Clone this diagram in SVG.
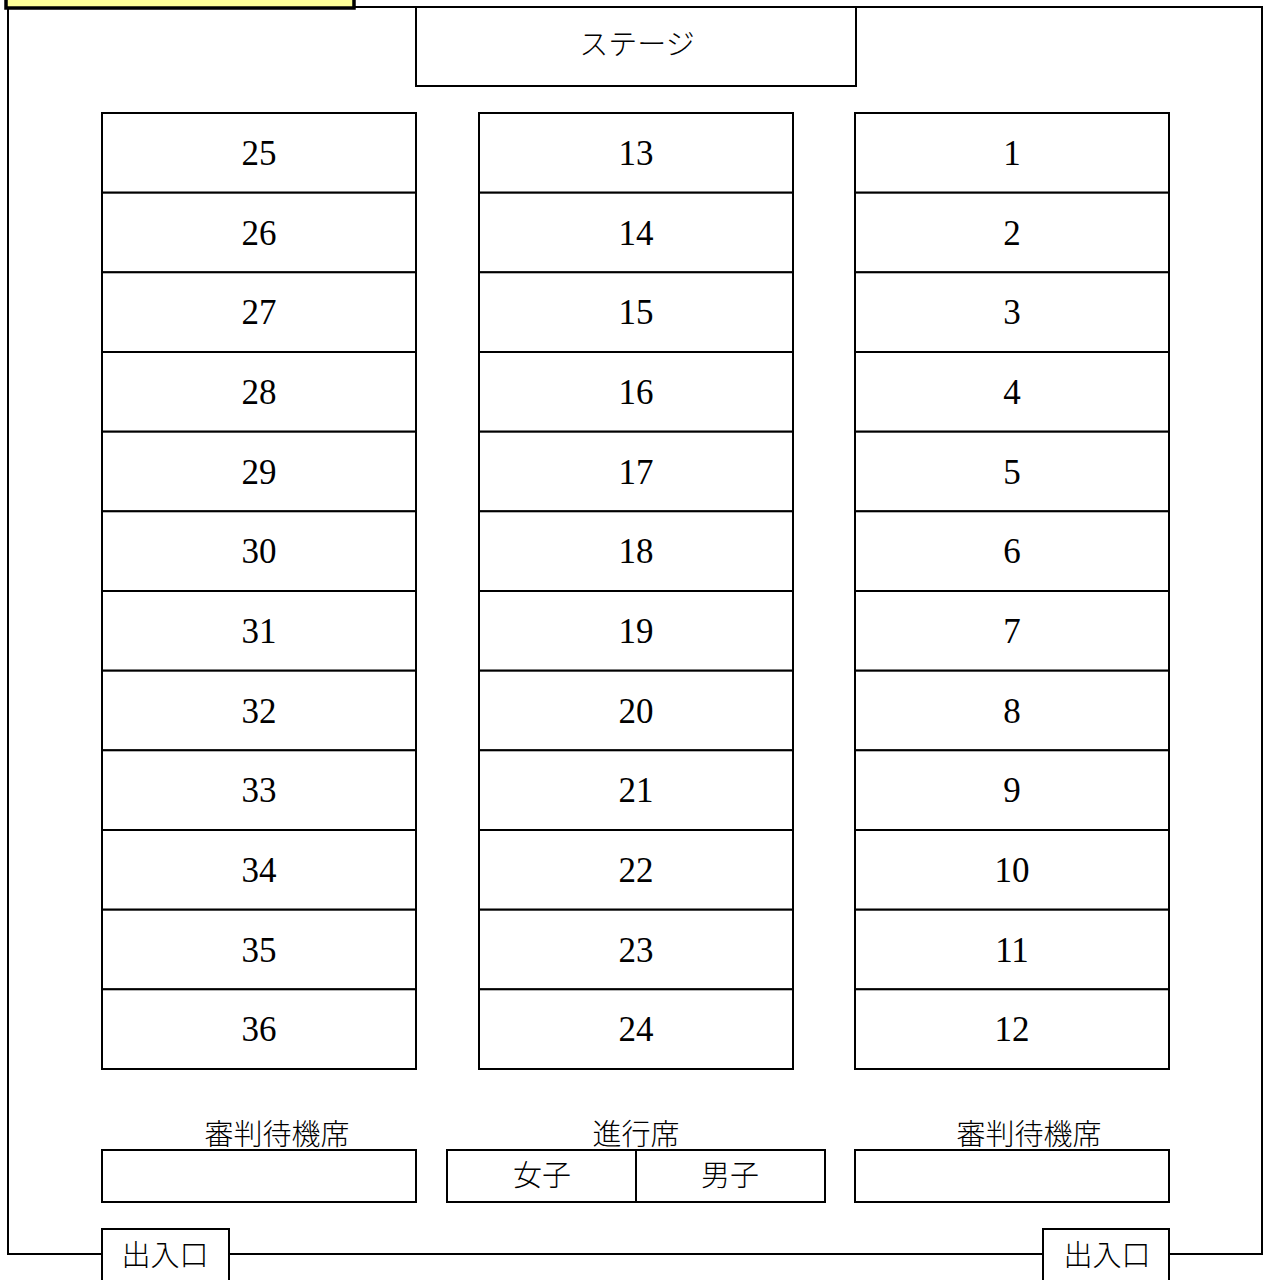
<svg xmlns="http://www.w3.org/2000/svg" width="1266" height="1280" viewBox="0 0 1266 1280">
<style>
.b{fill:#fff;stroke:#000;stroke-width:2}
.n{font-family:"Liberation Serif","DejaVu Serif",serif;font-size:35px;text-anchor:middle;fill:#000}
.j{font-family:"Noto Sans CJK JP",sans-serif;font-size:29px;font-weight:300;text-anchor:middle;fill:#000}
.w{fill:none;stroke:#000;stroke-width:2}
</style>
<rect width="1266" height="1280" fill="#fff"/>
<g id="walls">
<path class="w" d="M355 7 H1262 V1254 H8 V7"/>
</g>
<g id="label-box"><rect x="6" y="-10" width="348" height="18" fill="#ffff99" stroke="#000" stroke-width="3.5"/></g>
<g id="stage"><rect class="b" x="416" y="7" width="440" height="79"/><text class="j" x="637" y="55">ステージ</text></g>
<g id="seats-left">
<g id="s25"><rect class="b" x="102" y="113" width="314" height="79.7"/><text class="n" x="259" y="165">25</text></g>
<g id="s26"><rect class="b" x="102" y="192.7" width="314" height="79.7"/><text class="n" x="259" y="244.7">26</text></g>
<g id="s27"><rect class="b" x="102" y="272.3" width="314" height="79.7"/><text class="n" x="259" y="324.3">27</text></g>
<g id="s28"><rect class="b" x="102" y="352" width="314" height="79.7"/><text class="n" x="259" y="404">28</text></g>
<g id="s29"><rect class="b" x="102" y="431.7" width="314" height="79.7"/><text class="n" x="259" y="483.7">29</text></g>
<g id="s30"><rect class="b" x="102" y="511.3" width="314" height="79.7"/><text class="n" x="259" y="563.3">30</text></g>
<g id="s31"><rect class="b" x="102" y="591" width="314" height="79.7"/><text class="n" x="259" y="643">31</text></g>
<g id="s32"><rect class="b" x="102" y="670.7" width="314" height="79.7"/><text class="n" x="259" y="722.7">32</text></g>
<g id="s33"><rect class="b" x="102" y="750.3" width="314" height="79.7"/><text class="n" x="259" y="802.3">33</text></g>
<g id="s34"><rect class="b" x="102" y="830" width="314" height="79.7"/><text class="n" x="259" y="882">34</text></g>
<g id="s35"><rect class="b" x="102" y="909.7" width="314" height="79.7"/><text class="n" x="259" y="961.7">35</text></g>
<g id="s36"><rect class="b" x="102" y="989.3" width="314" height="79.7"/><text class="n" x="259" y="1041.3">36</text></g>
</g>
<g id="seats-middle">
<g id="s13"><rect class="b" x="479" y="113" width="314" height="79.7"/><text class="n" x="636" y="165">13</text></g>
<g id="s14"><rect class="b" x="479" y="192.7" width="314" height="79.7"/><text class="n" x="636" y="244.7">14</text></g>
<g id="s15"><rect class="b" x="479" y="272.3" width="314" height="79.7"/><text class="n" x="636" y="324.3">15</text></g>
<g id="s16"><rect class="b" x="479" y="352" width="314" height="79.7"/><text class="n" x="636" y="404">16</text></g>
<g id="s17"><rect class="b" x="479" y="431.7" width="314" height="79.7"/><text class="n" x="636" y="483.7">17</text></g>
<g id="s18"><rect class="b" x="479" y="511.3" width="314" height="79.7"/><text class="n" x="636" y="563.3">18</text></g>
<g id="s19"><rect class="b" x="479" y="591" width="314" height="79.7"/><text class="n" x="636" y="643">19</text></g>
<g id="s20"><rect class="b" x="479" y="670.7" width="314" height="79.7"/><text class="n" x="636" y="722.7">20</text></g>
<g id="s21"><rect class="b" x="479" y="750.3" width="314" height="79.7"/><text class="n" x="636" y="802.3">21</text></g>
<g id="s22"><rect class="b" x="479" y="830" width="314" height="79.7"/><text class="n" x="636" y="882">22</text></g>
<g id="s23"><rect class="b" x="479" y="909.7" width="314" height="79.7"/><text class="n" x="636" y="961.7">23</text></g>
<g id="s24"><rect class="b" x="479" y="989.3" width="314" height="79.7"/><text class="n" x="636" y="1041.3">24</text></g>
</g>
<g id="seats-right">
<g id="s1"><rect class="b" x="855" y="113" width="314" height="79.7"/><text class="n" x="1012" y="165">1</text></g>
<g id="s2"><rect class="b" x="855" y="192.7" width="314" height="79.7"/><text class="n" x="1012" y="244.7">2</text></g>
<g id="s3"><rect class="b" x="855" y="272.3" width="314" height="79.7"/><text class="n" x="1012" y="324.3">3</text></g>
<g id="s4"><rect class="b" x="855" y="352" width="314" height="79.7"/><text class="n" x="1012" y="404">4</text></g>
<g id="s5"><rect class="b" x="855" y="431.7" width="314" height="79.7"/><text class="n" x="1012" y="483.7">5</text></g>
<g id="s6"><rect class="b" x="855" y="511.3" width="314" height="79.7"/><text class="n" x="1012" y="563.3">6</text></g>
<g id="s7"><rect class="b" x="855" y="591" width="314" height="79.7"/><text class="n" x="1012" y="643">7</text></g>
<g id="s8"><rect class="b" x="855" y="670.7" width="314" height="79.7"/><text class="n" x="1012" y="722.7">8</text></g>
<g id="s9"><rect class="b" x="855" y="750.3" width="314" height="79.7"/><text class="n" x="1012" y="802.3">9</text></g>
<g id="s10"><rect class="b" x="855" y="830" width="314" height="79.7"/><text class="n" x="1012" y="882">10</text></g>
<g id="s11"><rect class="b" x="855" y="909.7" width="314" height="79.7"/><text class="n" x="1012" y="961.7">11</text></g>
<g id="s12"><rect class="b" x="855" y="989.3" width="314" height="79.7"/><text class="n" x="1012" y="1041.3">12</text></g>
</g>
<g id="judge-left"><text class="j" x="277" y="1145">審判待機席</text><rect class="b" x="102" y="1150" width="314" height="52"/></g>
<g id="progress"><text class="j" x="636" y="1145">進行席</text><rect class="b" x="447" y="1150" width="189" height="52"/><rect class="b" x="636" y="1150" width="189" height="52"/><text class="j" x="542" y="1186">女子</text><text class="j" x="730" y="1186">男子</text></g>
<g id="judge-right"><text class="j" x="1029" y="1145">審判待機席</text><rect class="b" x="855" y="1150" width="314" height="52"/></g>
<g id="exit-left"><rect class="b" x="102" y="1229" width="127" height="60"/><text class="j" x="165" y="1266">出入口</text></g>
<g id="exit-right"><rect class="b" x="1043" y="1229" width="126" height="60"/><text class="j" x="1107" y="1266">出入口</text></g>
</svg>
